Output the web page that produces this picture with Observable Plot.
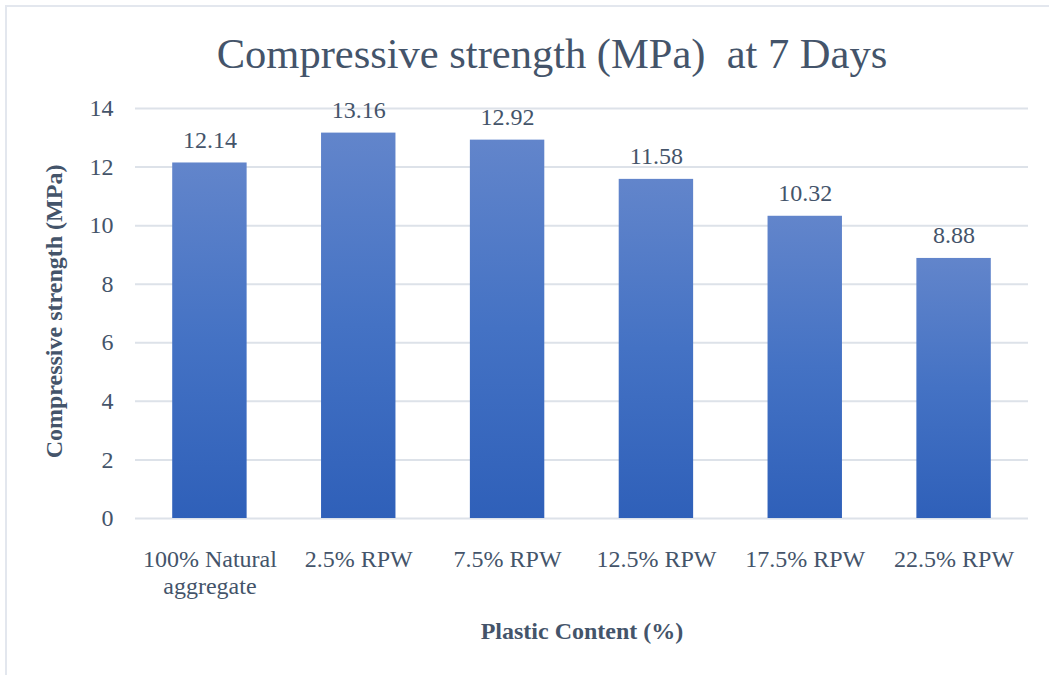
<!DOCTYPE html>
<html>
<head>
<meta charset="utf-8">
<script src="https://cdn.jsdelivr.net/npm/d3@7"></script>
<script src="https://cdn.jsdelivr.net/npm/@observablehq/plot@0.6"></script>
<style>
  html, body { margin: 0; padding: 0; background: #fff; }
  #chart { position: relative; width: 1049px; height: 675px; overflow: hidden; background: #fff;
           font-family: "Liberation Serif", "Times New Roman", serif; }
  #frame { position: absolute; left: 5px; top: 5px; right: -10px; bottom: -10px;
           border-left: 2.5px solid #e3e7ee; border-top: 2.5px solid #e3e7ee; }
  #title { position: absolute; top: 32px; left: 552px; transform: translateX(-50%);
           font-size: 42.5px; line-height: 43px; color: #44546a; white-space: pre; }
  #chart svg { position: absolute; left: 0; top: 90px; }
</style>
</head>
<body>
<div id="chart"><div id="frame"></div><div id="title"></div></div>
<script>
// Compressive strength at 7 days for each plastic replacement level
const chartTitle = "Compressive strength (MPa)  at 7 Days";
const categories = ["100% Natural aggregate", "2.5% RPW", "7.5% RPW", "12.5% RPW", "17.5% RPW", "22.5% RPW"];
const strength = [12.14, 13.16, 12.92, 11.58, 10.32, 8.88];
const yTicks = [0, 2, 4, 6, 8, 10, 12, 14];
const xTitle = "Plastic Content (%)";
const yTitle = "Compressive strength (MPa)";

const rows = categories.map((c, i) => ({category: c, value: strength[i]}));
const ink = "#44546a";
const gridColor = "#dde2e9";

document.getElementById("title").textContent = chartTitle;

const plot = Plot.plot({
  width: 1049,
  height: 585,
  marginTop: 18,
  marginBottom: 157,
  marginLeft: 135,
  marginRight: 21,
  style: {fontFamily: "'Liberation Serif', 'Times New Roman', serif", fontSize: "24px", color: ink, background: "transparent", overflow: "visible"},
  x: {domain: categories, paddingInner: 0.5, paddingOuter: 0.25, round: false, label: null},
  y: {domain: [0, 14], label: null},
  marks: [
    Plot.gridY(yTicks, {stroke: gridColor, strokeOpacity: 1, strokeWidth: 2}),
    Plot.barY(rows, {x: "category", y: "value", fill: "url(#barGradient)"}),
    Plot.text(rows, {x: "category", y: "value", text: d => d.value.toFixed(2), lineAnchor: "bottom", dy: -15, fill: ink, fontSize: 24}),
    Plot.axisY({ticks: yTicks, tickSize: 0, tickPadding: 22, fontSize: 24, fill: ink, label: null}),
    Plot.axisX({tickSize: 0, tickPadding: 30, fontSize: 24, fill: ink, lineHeight: 1.11, label: null,
                tickFormat: d => d.replace(" aggregate", "\naggregate")}),
    Plot.text([xTitle], {frameAnchor: "bottom", text: d => d, textAnchor: "middle", lineAnchor: "bottom", dy: 120, fontSize: 24, fontWeight: "bold", fill: ink}),
    Plot.text([yTitle], {frameAnchor: "left", text: d => d, textAnchor: "middle", rotate: -90, lineAnchor: "bottom", dx: -74, dy: -2, fontSize: 24, fontWeight: "bold", fill: ink})
  ]
});

// Vertical gradient applied to each bar (lighter at the top, deeper at the base)
const ns = "http://www.w3.org/2000/svg";
const defs = document.createElementNS(ns, "defs");
const grad = document.createElementNS(ns, "linearGradient");
grad.setAttribute("id", "barGradient");
grad.setAttribute("x1", "0"); grad.setAttribute("y1", "0");
grad.setAttribute("x2", "0"); grad.setAttribute("y2", "1");
[["0", "#6285cb"], ["0.5", "#4472c4"], ["1", "#2f60b9"]].forEach(([o, c]) => {
  const s = document.createElementNS(ns, "stop");
  s.setAttribute("offset", o);
  s.setAttribute("stop-color", c);
  grad.appendChild(s);
});
defs.appendChild(grad);
plot.insertBefore(defs, plot.firstChild);

document.getElementById("chart").appendChild(plot);
</script>
</body>
</html>
